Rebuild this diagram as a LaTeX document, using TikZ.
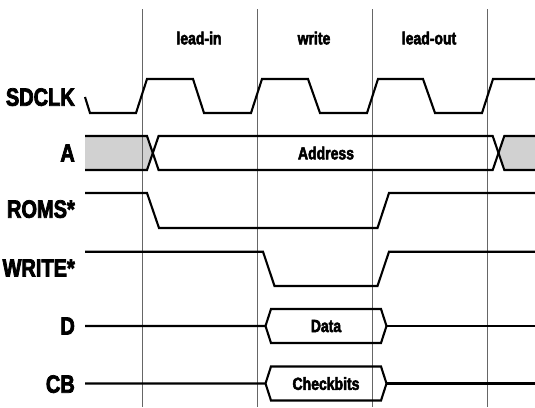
\documentclass[tikz,border=0pt]{standalone}
\usepackage{fontspec}
\newfontfamily\impfont[FakeStretch=0.8,FakeBold=3]{Liberation Sans Bold}
\begin{document}
\begin{tikzpicture}[x=1pt,y=-1pt,
  sig/.style={line width=2.1pt, line join=miter},
  gridline/.style={draw=black!60, line width=0.9pt},
  busfill/.style={fill=black!18},
  biglab/.style={anchor=east, inner sep=0pt, text depth=0pt, font=\impfont\fontsize{25}{25}\selectfont},
  smalllab/.style={inner sep=0pt, text depth=0pt, font=\impfont\fontsize{17.5}{17.5}\selectfont}]
\useasboundingbox (0,0) rectangle (535,407);
% gray bus fills
\fill[busfill] (85,136) -- (147,136) -- (152.8,153) -- (147,170) -- (85,170) -- cycle;
\fill[busfill] (498.5,153) -- (504,136) -- (535,136) -- (535,170) -- (504,170) -- cycle;
% grid lines
\foreach \gx/\gn in {142/g1,257/g2,372/g3,487/g4}{
  \coordinate (\gn top) at (\gx,9);
  \coordinate (\gn bot) at (\gx,407);
  \draw[gridline] (\gn top) -- (\gn bot);
}
% phase labels
\node[smalllab] (leadin) at (199,38) {lead-in};
\node[smalllab] (write) at (314,38) {write};
\node[smalllab] (leadout) at (429,38) {lead-out};
% signal labels
\node[biglab] (lsdclk) at (75,97) {SDCLK};
\node[biglab] (la) at (75,153) {A};
\node[biglab] (lroms) at (75,209) {ROMS*};
\node[biglab] (lwrite) at (75,268) {WRITE*};
\node[biglab] (ld) at (75,326) {D};
\node[biglab] (lcb) at (75,384) {CB};
% SDCLK
\draw[sig] (85,97) -- (90,113) -- (136,113) -- (147,79) -- (193,79) -- (204,113)
  -- (251,113) -- (262,79) -- (308,79) -- (320,113) -- (367,113) -- (378,79)
  -- (423,79) -- (435,113) -- (482,113) -- (493,79) -- (535,79);
% A bus
\draw[sig] (85,136) -- (147,136) -- (158.6,170) -- (492.7,170) -- (504.3,136) -- (535,136);
\draw[sig] (85,170) -- (147,170) -- (158.6,136) -- (492.7,136) -- (504.3,170) -- (535,170);
\node[smalllab] (addr) at (326,153) {Address};
% ROMS*
\draw[sig] (85,193) -- (147,193) -- (159,228) -- (377.5,228) -- (389,193) -- (535,193);
% WRITE*
\draw[sig] (85,251.7) -- (263,251.7) -- (274.5,286) -- (377.5,286) -- (389,251.7) -- (535,251.7);
% D
\draw[sig] (85,326) -- (265.5,326) -- (271,309) -- (381,309) -- (386.5,326) -- (381,343) -- (271,343) -- (265.5,326);
\draw[sig] (386.5,326) -- (535,326);
\node[smalllab] (data) at (326,326) {Data};
% CB
\draw[sig] (85,383.5) -- (265.5,383.5) -- (271,366.5) -- (381,366.5) -- (386.5,383.5) -- (381,400.5) -- (271,400.5) -- (265.5,383.5);
\draw[sig] (386.5,383.5) -- (535,383.5);
\node[smalllab] (chk) at (326,383.5) {Checkbits};
\end{tikzpicture}
\end{document}
